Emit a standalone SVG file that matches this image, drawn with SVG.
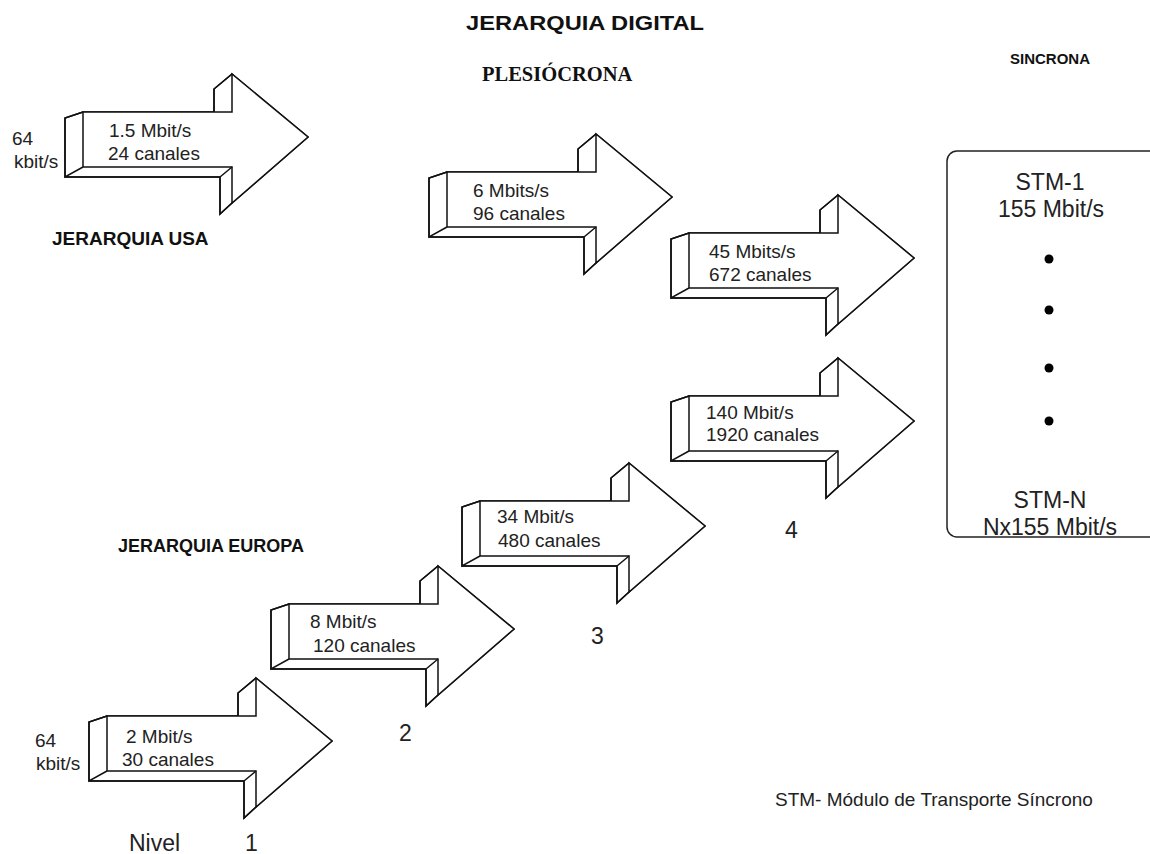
<svg xmlns="http://www.w3.org/2000/svg" xmlns:xlink="http://www.w3.org/1999/xlink" width="1150" height="854" viewBox="0 0 1150 854">
  <style>
    .lbl { font-family: "Liberation Sans", Arial, sans-serif; font-size: 19px; fill: #222; }
    .big { font-family: "Liberation Sans", Arial, sans-serif; font-size: 23px; fill: #222; }
    .head { font-family: "Liberation Sans", Arial, sans-serif; font-weight: bold; fill: #111; }
    .serifhead { font-family: "Liberation Serif", "Times New Roman", serif; font-weight: bold; fill: #111; }
    .edge { fill: none; stroke: #111; stroke-width: 1.5; stroke-linejoin: miter; }
    .face { fill: #fff; stroke: #111; stroke-width: 1.5; stroke-linejoin: miter; }
  </style>
  <defs>
    <!-- 3D block arrow; origin = top-left corner of the front shaft -->
    <g id="blockArrow">
      <path class="face" d="M0,0 L-18,6 V65 H137 V102 L149,91 L225,25 L149,-38 L131,-23 V0 Z"/>
      <path class="face" d="M0,0 H149 V-38 L225,25 L149,91 V55 H0 Z"/>
      <path class="edge" d="M0,0 L-18,6 V65 L0,55 M-18,65 H137 V102 L149,91 M137,65 L149,55 M149,-38 L131,-23 V0"/>
    </g>
  </defs>

  <rect width="1150" height="854" fill="#fff"/>

  <!-- headings -->
  <text class="head" x="466" y="30" font-size="21" textLength="238" lengthAdjust="spacingAndGlyphs">JERARQUIA DIGITAL</text>
  <text class="serifhead" x="482" y="81" font-size="20.5">PLESIÓCRONA</text>
  <text class="head" x="1010" y="64" font-size="15">SINCRONA</text>
  <text class="head" x="52" y="245" font-size="19">JERARQUIA USA</text>
  <text class="head" x="118" y="552" font-size="18">JERARQUIA EUROPA</text>

  <!-- input rates -->
  <g id="input-usa">
    <text class="lbl" x="12" y="145">64</text>
    <text class="lbl" x="14" y="168">kbit/s</text>
  </g>
  <g id="input-europa">
    <text class="lbl" x="35" y="747">64</text>
    <text class="lbl" x="36" y="770">kbit/s</text>
  </g>

  <!-- USA hierarchy -->
  <g id="usa-1">
    <use xlink:href="#blockArrow" transform="translate(83,112)"/>
    <text class="lbl" x="109" y="137">1.5 Mbit/s</text>
    <text class="lbl" x="108" y="160">24 canales</text>
  </g>
  <g id="usa-2">
    <use xlink:href="#blockArrow" transform="translate(447,172)"/>
    <text class="lbl" x="473" y="197">6 Mbits/s</text>
    <text class="lbl" x="473" y="220">96 canales</text>
  </g>
  <g id="usa-3">
    <use xlink:href="#blockArrow" transform="translate(689,233)"/>
    <text class="lbl" x="709" y="258">45 Mbits/s</text>
    <text class="lbl" x="709" y="281">672 canales</text>
  </g>

  <!-- European hierarchy -->
  <g id="eu-1">
    <use xlink:href="#blockArrow" transform="translate(107,716)"/>
    <text class="lbl" x="126" y="743">2 Mbit/s</text>
    <text class="lbl" x="122" y="766">30 canales</text>
  </g>
  <g id="eu-2">
    <use xlink:href="#blockArrow" transform="translate(289,604)"/>
    <text class="lbl" x="310" y="628">8 Mbit/s</text>
    <text class="lbl" x="313" y="652">120 canales</text>
  </g>
  <g id="eu-3">
    <use xlink:href="#blockArrow" transform="translate(480,501)"/>
    <text class="lbl" x="497" y="523">34 Mbit/s</text>
    <text class="lbl" x="498" y="547">480 canales</text>
  </g>
  <g id="eu-4">
    <use xlink:href="#blockArrow" transform="translate(689,396)"/>
    <text class="lbl" x="706" y="419">140 Mbit/s</text>
    <text class="lbl" x="706" y="441">1920 canales</text>
  </g>

  <!-- level numbers -->
  <g id="levels">
    <text class="big" x="129" y="851">Nivel</text>
    <text class="big" x="245" y="851">1</text>
    <text class="big" x="399" y="741">2</text>
    <text class="big" x="591" y="644">3</text>
    <text class="big" x="785" y="538">4</text>
  </g>

  <!-- synchronous hierarchy -->
  <g id="stm">
    <rect x="947" y="151" width="240" height="386" rx="10" ry="10" fill="#fff" stroke="#222" stroke-width="1.5"/>
    <text class="big" x="1050" y="190" text-anchor="middle">STM-1</text>
    <text class="big" x="1051" y="217" text-anchor="middle">155 Mbit/s</text>
    <circle cx="1049" cy="259" r="4.5" fill="#000"/>
    <circle cx="1049" cy="310" r="4.5" fill="#000"/>
    <circle cx="1049" cy="368" r="4.5" fill="#000"/>
    <circle cx="1049" cy="421" r="4.5" fill="#000"/>
    <text class="big" x="1050" y="508" text-anchor="middle">STM-N</text>
    <text class="big" x="1050" y="535" text-anchor="middle">Nx155 Mbit/s</text>
  </g>

  <text class="lbl" x="775" y="806" font-size="18.5">STM- Módulo de Transporte Síncrono</text>
</svg>
